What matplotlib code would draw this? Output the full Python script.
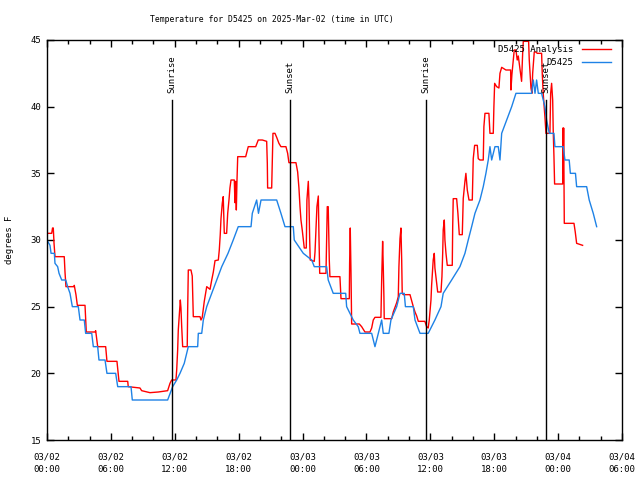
import matplotlib
matplotlib.use("Agg")
import matplotlib.pyplot as plt
import matplotlib.dates as mdates
import numpy as np
import pandas as pd

start = pd.Timestamp("2025-03-02 00:00")

# D5425 Analysis (hours since 03/02 00:00 UTC, degrees F)
analysis_hours = [0.0, 0.44, 0.52, 0.59, 0.66, 0.75, 1.62, 1.69, 1.78, 2.54, 2.56, 2.72, 2.85, 3.57, 3.69,
                  4.51, 4.57, 4.76, 5.51, 5.63, 6.57, 6.76, 7.58, 7.63, 8.73, 8.89, 9.67, 10.45, 11.33, 11.55,
                  11.71, 12.11, 12.18, 12.27, 12.33, 12.46, 12.52, 12.58, 12.65, 12.74, 13.17, 13.21, 13.27,
                  13.52, 13.64, 13.74, 14.37, 14.46, 14.58, 14.77, 15.00, 15.15, 15.31, 15.47, 15.62, 15.78,
                  16.09, 16.18, 16.27, 16.34, 16.46, 16.55, 16.65, 16.87, 16.97, 17.09, 17.18, 17.28, 17.59,
                  17.65, 17.72, 17.78, 17.84, 17.91, 18.66, 18.90, 19.60, 19.84, 20.22, 20.63, 20.69, 20.72,
                  21.10, 21.16, 21.22, 21.41, 21.57, 21.78, 21.97, 22.44, 22.60, 22.72, 23.38, 23.54, 23.66,
                  23.76, 23.85, 23.97, 24.07, 24.16, 24.35, 24.41, 24.54, 24.60, 24.67, 24.72, 25.10, 25.17,
                  25.26, 25.35, 25.48, 25.54, 25.61, 26.20, 26.26, 26.32, 26.41, 26.51, 26.57, 27.51, 27.61,
                  28.39, 28.42, 28.48, 28.55, 28.61, 29.33, 29.55, 29.86, 30.33, 30.49, 30.64, 30.80, 31.36,
                  31.43, 31.52, 31.58, 31.64, 31.67, 32.37, 32.52, 32.84, 32.99, 33.05, 33.15, 33.24, 33.31,
                  33.36, 33.46, 34.09, 34.40, 34.56, 34.72, 34.87, 35.49, 35.65, 35.80, 35.90, 36.06, 36.12,
                  36.27, 36.37, 36.43, 36.69, 37.00, 37.09, 37.16, 37.21, 37.31, 37.37, 37.47, 37.59, 38.06,
                  38.10, 38.15, 38.47, 38.59, 38.72, 39.00, 39.09, 39.25, 39.34, 39.47, 39.63, 39.94, 40.03,
                  40.16, 40.41, 40.50, 40.66, 40.97, 41.03, 41.13, 41.50, 41.60, 41.91, 41.97, 42.04, 42.23,
                  42.44, 42.54, 42.70, 43.10, 43.54, 43.57, 43.66, 43.79, 43.88, 44.04, 44.16, 44.26, 44.41,
                  44.57, 44.67, 44.73, 45.23, 45.29, 45.45, 45.54, 45.61, 45.76, 45.92, 46.04, 46.45, 46.51,
                  46.60, 46.76, 46.86, 47.23, 47.30, 47.39, 47.49, 47.54, 47.61, 47.67, 48.43, 48.45, 48.48,
                  48.52, 48.58, 49.49, 49.61, 49.74, 50.30]
analysis_temps = [30.5, 30.5, 30.9, 30.9, 29.75, 28.75, 28.75, 27.6, 26.5, 26.5, 26.6, 25.9, 25.1, 25.1, 23.1,
                  23.1, 23.2, 22.0, 22.0, 20.9, 20.9, 19.4, 19.4, 19.0, 18.9, 18.7, 18.55, 18.6, 18.7, 19.25,
                  19.5, 19.5, 20.25, 21.75, 23.25, 24.75, 25.5, 24.9, 23.5, 22.0, 22.0, 24.75, 27.75,
                  27.75, 27.3, 24.25, 24.25, 24.0, 24.2, 25.4, 26.5, 26.4, 26.3, 27.0, 27.6, 28.45,
                  28.5, 29.25, 30.4, 31.6, 32.75, 33.25, 30.5, 30.5, 32.0, 33.0, 33.9, 34.5, 34.5,
                  32.8, 34.4, 32.25, 34.4, 36.25, 36.25, 37.0, 37.0, 37.5, 37.5, 37.4, 35.75, 33.9,
                  33.9, 36.0, 38.0, 38.0, 37.7, 37.25, 37.0, 37.0, 36.5, 35.8, 35.8, 35.1, 33.9,
                  32.5, 31.5, 30.75, 30.0, 29.4, 29.4, 33.0, 34.4, 33.0, 30.0, 28.5, 28.4, 29.1,
                  30.75, 32.5, 33.3, 30.3, 27.5, 27.5, 30.0, 32.5, 32.5, 28.5, 27.25, 27.25, 25.6,
                  25.6, 28.25, 30.9, 27.5, 23.7, 23.7, 23.5, 23.1, 23.1, 23.4, 24.0, 24.2, 24.2,
                  27.0, 29.9, 28.0, 25.75, 24.1, 24.1, 24.6, 25.3, 25.75, 28.0, 30.1, 30.9, 28.5,
                  26.0, 25.9, 25.9, 25.0, 24.6, 24.3, 23.9, 23.9, 23.5, 23.4, 24.0, 25.5, 26.6,
                  28.5, 29.0, 27.9, 26.1, 26.1, 27.25, 29.0, 30.75, 31.5, 30.0, 29.0, 28.1, 28.1,
                  31.0, 33.1, 33.1, 32.0, 30.4, 30.4, 33.1, 34.4, 35.0, 33.75, 33.0, 33.0, 36.1,
                  37.1, 37.1, 36.1, 36.0, 36.0, 38.5, 39.5, 39.5, 38.0, 38.0, 40.0, 41.75, 41.5,
                  41.4, 42.5, 42.95, 42.75, 42.75, 41.25, 42.4, 43.5, 44.25, 44.25, 43.5, 43.8, 42.9,
                  41.9, 44.0, 44.9, 44.9, 43.5, 41.4, 41.0, 42.5, 44.1, 44.1, 44.0, 44.0, 42.5,
                  41.0, 39.25, 38.0, 38.0, 41.0, 41.75, 40.5, 38.25, 36.25, 34.2, 34.2, 38.4, 35.0,
                  38.4, 31.25, 31.25, 30.6, 29.75, 29.6]

# D5425 observations
station_hours = [0.0, 0.28, 0.38, 0.69, 0.75, 1.00, 1.13, 1.38, 1.76, 1.94, 2.16, 2.38, 2.94, 3.10, 3.50,
                 3.63, 4.20, 4.35, 4.76, 4.88, 5.45, 5.63, 6.45, 6.64, 7.89, 8.01, 11.33, 11.80, 12.18,
                 12.49, 12.89, 13.27, 14.15, 14.21, 14.53, 14.68, 15.00, 15.47, 15.94, 16.41, 17.00,
                 17.49, 17.96, 19.16, 19.28, 19.69, 19.86, 20.10, 21.57, 21.97, 22.35, 23.13, 23.22,
                 24.07, 24.86, 25.10, 26.26, 26.41, 26.88, 28.05, 28.14, 28.76, 29.23, 29.39, 30.49,
                 30.80, 31.43, 31.58, 32.11, 32.30, 32.84, 33.15, 33.55, 33.66, 34.40, 34.56, 35.03,
                 35.80, 36.43, 37.00, 37.21, 38.00, 38.78, 39.25, 39.56, 39.88, 40.19, 40.66, 40.97,
                 41.22, 41.44, 41.60, 41.76, 42.07, 42.38, 42.54, 42.70, 43.17, 43.64, 44.04, 45.51,
                 45.67, 45.83, 45.98, 46.14, 46.45, 46.76, 46.92, 47.17, 47.61, 47.70, 48.48, 48.64,
                 49.04, 49.15, 49.63, 49.74, 50.68, 50.92, 51.30, 51.62]
station_temps = [30, 29.6, 29, 29, 28.25, 28, 27.5, 27, 27, 26.5, 26, 25, 25, 24, 24,
                 23, 23, 22, 22, 21, 21, 20, 20, 19, 19, 18, 18, 19, 19.5,
                 20, 20.75, 22, 22, 23, 23, 24, 25, 26, 27, 28, 29,
                 30, 31, 31, 32, 33, 32, 33, 33, 32, 31, 31, 30,
                 29, 28.5, 28, 28, 27, 26, 26, 25, 24, 23.5, 23, 23,
                 22, 24, 23, 23, 24, 25, 26, 26, 25, 25, 24, 23,
                 23, 24, 25, 26, 27, 28, 29, 30, 31, 32, 33, 34,
                 35, 36, 37, 36, 37, 37, 36, 38, 39, 40, 41, 41,
                 42, 41, 42, 41, 41, 40, 39, 38, 38, 37, 37, 36,
                 36, 35, 35, 34, 34, 33, 32, 31]

sun_hours = [11.71, 22.82, 35.62, 46.89]
sun_labels = ["Sunrise", "Sunset", "Sunrise", "Sunset"]

title = "Temperature for D5425 on 2025-Mar-02 (time in UTC)"
ylabel = "degrees F"
series_names = ["D5425 Analysis", "D5425"]
colors = ["#ff0000", "#1e82e6"]

def to_time(hours):
    return start + pd.to_timedelta(np.asarray(hours, dtype=float), unit="h")

plt.rcParams['font.family'] = ['DejaVu Sans Mono', 'DejaVu Sans']
FS = 6.0

fig = plt.figure(figsize=(6.4, 4.8), dpi=100)
ax = fig.add_axes([47/640, 1 - 440/480, 575/640, 400/480])

ax.plot(to_time(analysis_hours), analysis_temps, color=colors[0], lw=1.0, label=series_names[0])
ax.plot(to_time(station_hours), station_temps, color=colors[1], lw=1.0, label=series_names[1])

for h, lab in zip(sun_hours, sun_labels):
    t = to_time([h])[0]
    ax.plot([t, t], [15, 40.5], color="black", lw=1.0)
    ax.text(t, 41.05, lab, rotation=90, ha="center", va="bottom", fontsize=FS + 0.5)

ax.set_xlim(start, start + pd.Timedelta(hours=54))
ax.set_ylim(15, 45)
ax.set_yticks(np.arange(15, 46, 5))
ax.xaxis.set_major_locator(mdates.HourLocator(byhour=[0, 6, 12, 18]))
ax.xaxis.set_minor_locator(mdates.HourLocator(byhour=range(0, 24, 2)))
ax.xaxis.set_major_formatter(mdates.DateFormatter("%m/%d\n%H:%M"))
ax.tick_params(axis="both", which="both", direction="in", top=True, right=True, labelsize=FS + 0.5, width=1.0)
ax.tick_params(axis="both", which="major", length=5, pad=4)
ax.tick_params(axis="x", which="major", pad=9)
ax.tick_params(axis="both", which="minor", length=3)
for lbl in ax.get_xticklabels():
    lbl.set_linespacing(1.45)
for sp in ax.spines.values():
    sp.set_linewidth(1.0)

fig.text(271.5/640, 1 - 19/480, title, ha="center", va="center", fontsize=FS - 0.1)
ax.set_ylabel(ylabel, fontsize=FS + 0.5, labelpad=12)

leg = ax.legend(loc="upper right", bbox_to_anchor=(0.994, 1.005), markerfirst=False, frameon=False,
                fontsize=FS + 0.5, handlelength=3.3, handletextpad=0.9, labelspacing=0.45, borderpad=0.3)

fig.savefig("out.png", dpi=100)
